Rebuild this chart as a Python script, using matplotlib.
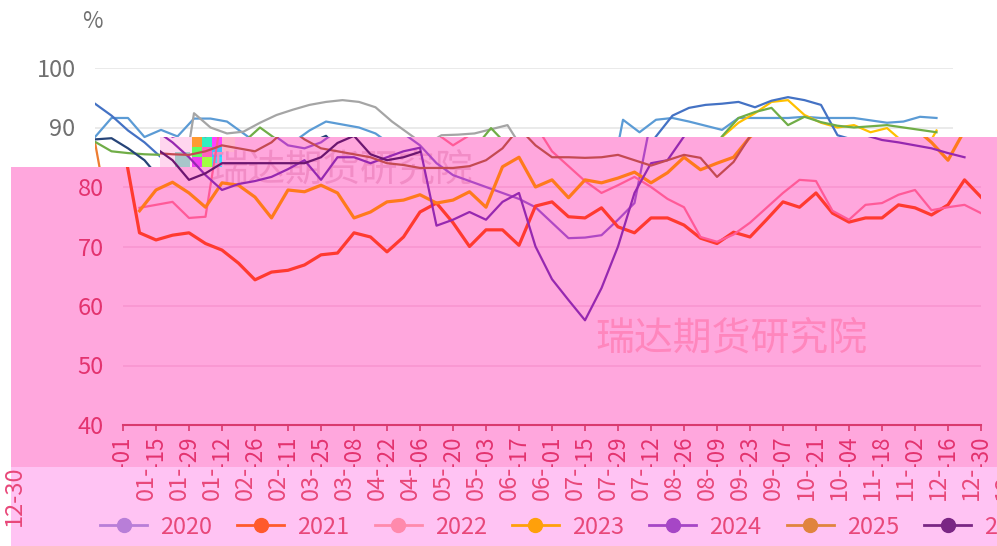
import matplotlib
matplotlib.use("Agg")
import numpy as np
import matplotlib.pyplot as plt
from matplotlib.lines import Line2D
from matplotlib.patches import Polygon, Rectangle
from matplotlib.transforms import Bbox

W, H = 997, 546
plt.rcParams['font.family'] = ['Noto Sans CJK SC', 'DejaVu Sans']

# ---- data (weekly, 53 points per year) ----
n_weeks = 53
tick_labels = ['01-01', '01-15', '01-29', '02-12', '02-26', '03-11', '03-25',
               '04-08', '04-22', '05-06', '05-20', '06-03', '06-17', '07-01',
               '07-15', '07-29', '08-12', '08-26', '09-09', '09-23', '10-07',
               '10-21', '11-04', '11-18', '12-02', '12-16', '12-30']
years = ['2020', '2021', '2022', '2023', '2024', '2025', '2026']

y2020 = [88.4, 91.6, 91.6, 88.4, 89.6, 88.5, 91.5, 91.5, 91, 89, 87, 86.5, 87.5,
         89.5, 91, 90.5, 90, 89, 87, 84, 82, 81, 80, 79, 78, 76.6, 74, 71.4,
         71.5, 71.9, 74.5, 77.3, 91.3, 89.2, 91.3, 91.6, 91, 90.3, 89.6, 91.6,
         91.6, 91.6, 91.6, 91.8, 91.6, 91.6, 91.6, 91.2, 90.8, 91, 91.8, 91.6, None]
y2021 = [87.5, 72.3, 71.1, 71.9, 72.3, 70.5, 69.4, 67.2, 64.4, 65.7, 66, 66.9,
         68.6, 68.9, 72.3, 71.6, 69.1, 71.6, 75.8, 77.3, 74, 70, 72.8, 72.8, 70.2,
         76.8, 77.5, 75, 74.8, 76.5, 73.3, 72.3, 74.8, 74.8, 73.6, 71.4, 70.5,
         72.4, 71.6, 74.5, 77.5, 76.6, 79, 75.6, 74.1, 74.8, 74.8, 77, 76.5, 75.3,
         77, 81.2, 78.3]
y2022 = [None, 76.5, 77, 77.5, 74.8, 75, 92.4, 90, 89, 89.3, 90.8, 92.1, 93,
         93.8, 94.3, 94.6, 94.3, 93.4, 91, 89, 87, 88.7, 88.8, 89, 89.7, 90.4, 86,
         83.5, 81, 79, 80.3, 81.7, 80, 78, 76.6, 71.6, 70.8, 72, 74, 76.5, 79,
         81.2, 81, 76, 74.5, 77, 77.3, 78.7, 79.5, 76.1, 76.6, 77, 75.6]
y2023 = [None, 76, 79.5, 80.8, 79, 76.6, 80.7, 80.3, 78.3, 74.8, 79.5, 79.2, 80.3,
         79, 74.8, 75.8, 77.5, 77.8, 78.7, 77.3, 77.8, 79.2, 76.6, 83.4, 85, 80,
         81.2, 78.2, 81.2, 80.7, 81.5, 82.5, 80.7, 82.4, 85, 82.9, 84, 85, 88.4,
         90.8, 92.4, 94.3, 94.6, 92.1, 90.8, 90, 90.4, 89.2, 89.9, 87.5, 84.5,
         89.5, None]
y2024 = [94, 92, 89.5, 87.5, 85, 82, 79.5, 80.5, 81, 81.7, 83, 84.5, 81.2, 85, 85,
         84, 85, 86, 86.6, 73.5, 74.5, 75.8, 74.5, 77.5, 79, 70, 64.5, 61, 57.6,
         63, 70, 79, 84, 84.5, 88.5, 92, 93.3, 93.8, 94, 94.3, 93.4, 94.5, 95.1,
         94.6, 93.8, 88.7, 87.9, 87.5, 87, 86.5, 85.7, 85, None]
y2025 = [87.6, 86, 85.7, 85.5, 85.4, 86, 87, 86.5, 86, 87.5, 90, 88, 86.5, 86,
         85.5, 85, 84, 83.7, 83.2, 83.2, 83.2, 83.5, 84.5, 86.5, 89.9, 87, 85, 85,
         84.9, 85, 85.4, 84.5, 83.6, 84.5, 85.4, 84.9, 81.7, 84.2, 88.5, 91.6,
         92.6, 93.3, 90.4, 91.8, 90.9, 90.3, 90, 90.2, 90.4, 90, 89.6, 89.2, None]
y2026 = [88, 88.2, 86.5, 84.5, 81.2, 82.3, 84, 84, 84, 84, 84, 84, 85, 87.4,
         88.6, 85.5, 84.5, 85, 85.9] + [None] * 34

series = [y2020, y2021, y2022, y2023, y2024, y2025, y2026]

# colours: as seen in the clean top strip, under the pink veil, and in the legend band
white_colors = ['#5b9bd5', '#ed7d31', '#a5a5a5', '#ffc000', '#4472c4', '#70ad47', '#264478']
pink_colors = ['#b048c4', '#ff3a30', '#ff5a98', '#ff7a1c', '#9628b0', '#c44a52', '#6c1670']
legend_colors = ['#b87ed8', '#ff5a2c', '#ff8aac', '#ffa00a', '#a646c6', '#e0843e', '#7a2684']
pink_widths = [1.6, 2.3, 1.6, 2.3, 1.6, 1.6, 1.6]


def fx(px):
    return px / W


def fy(py):
    return 1 - py / H


fig = plt.figure(figsize=(W / 100, H / 100), dpi=100)
x = np.arange(n_weeks)
plot_w = 52 * 16.5 / W
plot_h = (425 - 68) / H

# ---------- clean chart (top strip) ----------
ax1 = fig.add_axes([fx(95), fy(425), plot_w, plot_h], zorder=0)
ax1.set_facecolor('none')
for vals, c in zip(series, white_colors):
    ax1.plot(x, np.array(vals, dtype=float), color=c, lw=1.6)
ax1.set_xlim(0, 52)
ax1.set_ylim(40, 100)
ax1.set_yticks(range(40, 101, 10))
ax1.yaxis.grid(True, color='#e6e6e6', lw=1.2)
ax1.set_axisbelow(True)
ax1.tick_params(axis='y', length=0, pad=14, labelsize=17, labelcolor='#707070')
ax1.set_xticks([])
for s in ax1.spines.values():
    s.set_visible(False)
fig.text(fx(92), fy(22), '%', ha='center', va='center', fontsize=16, color='#707070')
fig.text(0.5, fy(2), '开工率季节性走势', ha='center', va='bottom', fontsize=17, color='#707070')

# ---------- pink veil ----------
veil = [(fx(11), fy(167)), (fx(160), fy(167)), (fx(160), fy(137)), (1, fy(137)),
        (1, fy(467)), (fx(11), fy(467))]
fig.add_artist(Polygon(veil, closed=True, transform=fig.transFigure,
                       facecolor='#ffa7dd', edgecolor='none', zorder=1))
strip = [(160, 137, 32, 30, '#ffd6ef'), (175, 152, 15, 15, '#a8c6ca'),
         (222, 137, 13, 15, '#ffb3cc')]
for px0, py0, pw, ph, c in strip:
    fig.add_artist(Rectangle((fx(px0), fy(py0 + ph)), pw / W, ph / H,
                             transform=fig.transFigure, facecolor=c,
                             edgecolor='none', zorder=1.5))
noise = ['#ff9a30', '#30f0c0', '#ff40ff', '#60ff60', '#ff60c0', '#40c0ff',
         '#f040f0', '#a0ff40', '#30e0ff']
for k, c in enumerate(noise):
    fig.add_artist(Rectangle((fx(192 + (k % 3) * 10), fy(147 + (k // 3) * 10)), 10 / W, 10 / H,
                             transform=fig.transFigure, facecolor=c,
                             edgecolor='none', zorder=1.5))
fig.text(fx(342), fy(171), '瑞达期货研究院', ha='center', va='center',
         fontsize=27, color='#f28cc6', zorder=1.8)
fig.text(fx(731), fy(338), '瑞达期货研究院', ha='center', va='center',
         fontsize=28, color='#ff86bd', zorder=1.8)

clip_poly = Polygon(veil, closed=True, transform=fig.transFigure)
ax2 = fig.add_axes([fx(123), fy(425), plot_w, plot_h], zorder=2)
ax2.set_facecolor('none')
for vals, c, lw in zip(series, pink_colors, pink_widths):
    ln, = ax2.plot(x, np.array(vals, dtype=float), color=c, lw=lw)
    ln.set_clip_path(clip_poly)
ax2.set_xlim(0, 52)
ax2.set_ylim(40, 100)
ax2.set_yticks(range(40, 81, 10))
ax2.yaxis.grid(True, color='#f896d0', lw=1.2)
ax2.set_axisbelow(True)
ax2.tick_params(axis='y', length=0, pad=14, labelsize=17, labelcolor='#e3336f')
# only the tail of each date label shows above the band seam
ax2.set_xticks(range(0, 53, 2))
ax2.set_xticklabels(['-' + t[3:] for t in tick_labels], rotation=90)
ax2.tick_params(axis='x', length=4.5, width=1.2, color='#d93a6e', pad=4,
                labelsize=16, labelcolor='#e3336f')
for k, s in ax2.spines.items():
    s.set_visible(k == 'bottom')
ax2.spines['bottom'].set_color('#d93a6e')
ax2.spines['bottom'].set_linewidth(1.5)
upper_box = Bbox([[0, H - 467], [W, H]])
for t in ax2.xaxis.get_major_ticks():
    t.label1.set_clip_box(upper_box)
    t.label1.set_clip_on(True)

# ---------- lighter band with shifted label heads and legend ----------
fig.add_artist(Rectangle((fx(11), 0), (W - 11) / W, (H - 467) / H,
                         transform=fig.transFigure, facecolor='#ffc3f3',
                         edgecolor='none', zorder=3))
left3 = 146 - 8.5 * 16.5
ax3 = fig.add_axes([fx(left3), fy(425), 60.5 * 16.5 / W, plot_h], zorder=4)
ax3.set_facecolor('none')
ax3.set_xlim(-8.5, 52)
ax3.set_ylim(40, 100)
ax3.set_yticks([])
ax3.set_xticks([-8] + list(range(0, 53, 2)))
ax3.set_xticklabels([tick_labels[-1]] + [t[:3] for t in tick_labels], rotation=90)
ax3.tick_params(axis='x', length=0, pad=29, labelsize=17, labelcolor='#e8487a')
for s in ax3.spines.values():
    s.set_visible(False)
lower_box = Bbox([[0, 0], [W, H - 467]])
for t in ax3.xaxis.get_major_ticks():
    t.label1.set_clip_box(lower_box)
    t.label1.set_clip_on(True)

handles = [Line2D([], [], color=c, lw=2, marker='o', markersize=10) for c in legend_colors]
fig.legend(handles, years, loc='center left', bbox_to_anchor=(fx(100), fy(527)),
           ncol=7, frameon=False, fontsize=17, labelcolor='#e8487a',
           handlelength=2.0, handletextpad=0.55, columnspacing=1.06,
           borderpad=0, borderaxespad=0)

fig.savefig('out.png', dpi=100)
